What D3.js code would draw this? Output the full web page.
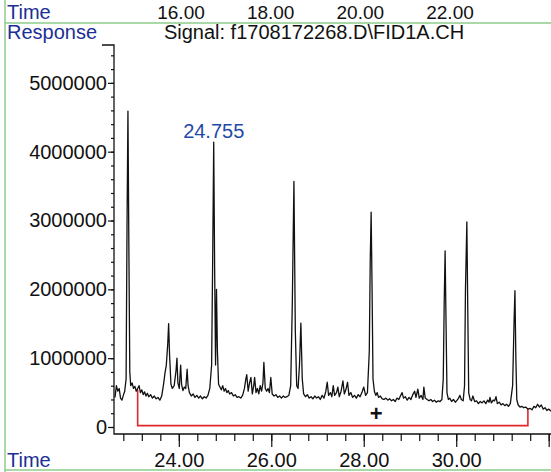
<!DOCTYPE html>
<html lang="en">
	<head>
		<meta charset="utf-8">
		<title>FID chromatogram</title>
		<script type="text/javascript" src="https://cdn.jsdelivr.net/npm/d3@7"></script>
		<style type="text/css">
            body{margin:0;background:#fff;font-family:"Liberation Sans",Arial,sans-serif;}
            .axis text{font-family:"Liberation Sans",Arial,sans-serif;font-size:20px;fill:#111;}
            .axis path, .axis line{stroke:#111;stroke-width:1.2;}
		</style>
	</head>
	<body>
    <div id="chart1"></div>
		<script type="text/javascript">
            // retention time (min) and detector response
            var times = [22.62,22.65,22.68,22.71,22.74,22.77,22.80,22.83,22.86,22.88,22.90,22.92,22.94,22.96,22.99,
                23.02,23.05,23.08,23.11,23.14,23.17,23.20,23.23,23.26,23.29,23.32,23.35,23.39,23.43,23.47,23.51,23.55,23.59,23.63,23.67,
                23.70,23.73,23.76,23.78,23.80,23.83,23.86,23.90,23.94,23.96,23.98,24.01,24.04,24.06,24.09,24.12,24.15,24.18,24.20,
                24.23,24.27,24.31,24.35,24.39,24.43,24.47,24.51,24.55,24.59,24.63,24.67,24.71,24.735,24.755,24.775,24.795,24.815,24.835,
                24.86,24.89,24.92,24.95,24.98,25.01,25.04,25.07,25.10,25.14,25.18,25.22,25.26,25.30,25.34,25.38,25.42,25.45,25.47,
                25.50,25.53,25.56,25.59,25.62,25.64,25.67,25.70,25.73,25.76,25.79,25.82,25.84,25.87,25.90,25.93,25.96,25.99,26.02,
                26.06,26.10,26.14,26.18,26.22,26.26,26.30,26.34,26.38,26.42,26.455,26.49,26.52,26.55,26.58,26.61,26.64,26.67,26.70,
                26.74,26.78,26.82,26.86,26.90,26.94,26.98,27.02,27.06,27.10,27.14,27.18,27.21,27.24,27.28,27.31,27.34,27.37,27.41,
                27.44,27.47,27.51,27.55,27.58,27.62,27.65,27.68,27.72,27.76,27.80,27.84,27.88,27.92,27.96,28.00,28.04,28.08,28.12,
                28.14,28.16,28.18,28.20,28.23,28.26,28.29,28.32,28.36,28.40,28.44,28.48,28.52,28.56,28.60,28.64,28.68,28.72,28.76,
                28.80,28.83,28.86,28.90,28.94,28.98,29.02,29.06,29.10,29.13,29.17,29.20,29.24,29.28,29.30,29.33,29.37,29.41,29.45,
                29.49,29.53,29.57,29.61,29.65,29.69,29.72,29.74,29.76,29.78,29.80,29.83,29.86,29.90,29.94,29.98,30.02,30.05,30.08,
                30.11,30.15,30.18,30.20,30.23,30.25,30.27,30.30,30.33,30.36,30.40,30.44,30.48,30.52,30.56,30.60,30.64,30.68,30.71,
                30.73,30.76,30.80,30.83,30.86,30.89,30.93,30.97,31.01,31.05,31.09,31.13,31.17,31.22,31.25,31.27,31.29,31.31,31.34,
                31.38,31.42,31.46,31.50,31.55,31.60,31.64,31.68,31.72,31.76,31.80,31.84,31.88,31.92,31.96,32.00,32.05]
            var response = [430000,600000,520000,560000,420000,390000,460000,520000,700000,2900000,4590000,2600000,800000,600000,640000,
                560000,590000,520000,560000,600000,500000,540000,470000,510000,450000,490000,440000,470000,420000,450000,410000,430000,390000,450000,620000,
                780000,900000,1200000,1500000,1050000,620000,560000,600000,820000,1000000,640000,560000,900000,620000,530000,580000,560000,840000,600000,
                500000,450000,480000,430000,460000,420000,450000,410000,440000,420000,460000,560000,900000,2600000,4140000,2300000,900000,2000000,1100000,
                620000,580000,540000,600000,520000,560000,500000,530000,480000,500000,450000,470000,430000,440000,420000,460000,560000,700000,760000,
                520000,640000,720000,480000,600000,720000,500000,560000,480000,600000,520000,640000,940000,560000,520000,560000,500000,720000,480000,
                450000,470000,430000,450000,420000,450000,430000,440000,460000,600000,1800000,3570000,1400000,600000,560000,900000,1510000,700000,480000,
                440000,470000,420000,440000,410000,450000,420000,440000,400000,460000,420000,520000,650000,460000,500000,440000,600000,460000,500000,
                580000,440000,520000,670000,480000,560000,650000,460000,500000,430000,460000,420000,470000,440000,500000,580000,460000,500000,1100000,
                2400000,3120000,2000000,700000,520000,460000,500000,430000,450000,410000,400000,420000,390000,410000,380000,400000,370000,420000,400000,
                460000,500000,420000,440000,390000,430000,400000,470000,520000,430000,550000,420000,460000,400000,580000,420000,400000,380000,400000,
                370000,390000,360000,380000,370000,400000,700000,1800000,2560000,1500000,500000,400000,420000,370000,400000,360000,390000,420000,460000,
                400000,380000,600000,2000000,2980000,1700000,500000,400000,380000,450000,370000,380000,340000,370000,350000,380000,340000,390000,360000,
                430000,350000,390000,380000,440000,340000,360000,320000,340000,310000,330000,300000,340000,600000,1500000,1980000,1000000,400000,320000,
                290000,300000,280000,290000,260000,270000,250000,300000,280000,330000,290000,320000,260000,280000,240000,260000,230000]

            var yTicks = [0,1000000,2000000,3000000,4000000,5000000]
            var xTicks = [24,26,28,30,32]
            var topTicks = [16,18,20,22]       // leftover time axis of the panel above
            var peakLabel = {time:24.755, value:4140000, text:"24.755"}
            // integration baseline (red bracket)
            var baseTimes = [23.11,31.55]
            var baseTops = [540000,260000]
            var baseFloor = 20000
            var plusMark = {time:28.27, value:200000}

            var w = 551
            var h = 472
            var x0 = 114, xAxisY = 434

            var svg = d3.select("#chart1")
                        .append("svg")
                        .attr("width",w)
                        .attr("height",h)

            var xScale = d3.scaleLinear().domain([22.62,32.05]).range([115,551])
            var yScale = d3.scaleLinear().domain([0,5550000]).range([427,45])
            var topScale = d3.scaleLinear().domain([16,22]).range([181,450])

            // green frame of the printout
            var green = "#8ccb8c"
            svg.append("line").attr("x1",5).attr("x2",5).attr("y1",0).attr("y2",h)
                .attr("stroke",green).attr("stroke-width",1.5)
            svg.append("line").attr("x1",5).attr("x2",w).attr("y1",23).attr("y2",23)
                .attr("stroke",green).attr("stroke-width",1.5)
            svg.append("line").attr("x1",5).attr("x2",w).attr("y1",470).attr("y2",470)
                .attr("stroke",green).attr("stroke-width",1.5)

            // blue header labels
            var navy = "#1b2f95"
            svg.append("text").attr("x",7).attr("y",19).text("Time")
                .attr("font-size",20).attr("fill",navy)
            svg.append("text").attr("x",7).attr("y",39).text("Response")
                .attr("font-size",20).attr("fill",navy)
            svg.append("text").attr("x",7).attr("y",467).text("Time")
                .attr("font-size",20).attr("fill",navy)
            svg.append("text").attr("x",314).attr("y",39).attr("text-anchor","middle")
                .text("Signal: f1708172268.D\\FID1A.CH").attr("font-size",20).attr("fill","#111")

            // top time labels (no tick lines)
            svg.selectAll(".toplabel")
                .data(topTicks)
                .enter()
                .append("text")
                .attr("class","toplabel")
                .attr("x",function(d){ return topScale(d) })
                .attr("y",19)
                .attr("text-anchor","middle")
                .attr("font-size",19)
                .attr("fill","#111")
                .text(function(d){ return d3.format(".2f")(d) })

            // y axis: major ticks with labels, minor every 200000
            var yAxis = d3.axisLeft(yScale).tickValues(yTicks).tickFormat(d3.format("d"))
                .tickSize(6).tickPadding(1).tickSizeOuter(0)
            var gy = svg.append("g").attr("class","axis").attr("transform","translate("+x0+",0)").call(yAxis)
            gy.select(".domain").remove()
            var gyMinor = svg.append("g").attr("class","axis").attr("transform","translate("+x0+",0)")
                .call(d3.axisLeft(yScale).tickValues(d3.range(0,5500001,200000)).tickSize(3).tickFormat(""))
            gyMinor.select(".domain").remove()

            // x axis: majors every 2 min, minors every 0.4 min
            var xAxis = d3.axisBottom(xScale).tickValues(xTicks)
                .tickFormat(function(d){ return d < 32 ? d3.format(".2f")(d) : "" })
                .tickSize(13).tickSizeOuter(0)
            var gx = svg.append("g").attr("class","axis").attr("transform","translate(0,"+xAxisY+")").call(xAxis)
            gx.select(".domain").remove()
            gx.selectAll("text").attr("y",33).attr("dy",0)
            var gxMinor = svg.append("g").attr("class","axis").attr("transform","translate(0,"+xAxisY+")")
                .call(d3.axisBottom(xScale).tickValues(d3.range(22.8,32.01,0.4)).tickSize(7).tickFormat(""))
            gxMinor.select(".domain").remove()

            // axis frame: short top stub, y line, x line
            svg.append("path")
                .attr("d","M102,"+yScale.range()[1]+"H"+x0+"V"+xAxisY+"H"+w)
                .attr("fill","none").attr("stroke","#111").attr("stroke-width",1.3)

            // red integration baseline bracket
            var bracket = [[baseTimes[0],baseTops[0]],[baseTimes[0],baseFloor],[baseTimes[1],baseFloor],[baseTimes[1],baseTops[1]]]
            svg.append("path")
                .datum(bracket)
                .attr("d",d3.line().x(function(d){ return xScale(d[0]) }).y(function(d){ return yScale(d[1]) }))
                .attr("fill","none").attr("stroke","#e0262b").attr("stroke-width",1.6)

            // chromatogram trace
            var trace = times.map(function(t,i){ return [t,response[i]] })
            svg.append("path")
                .datum(trace)
                .attr("d",d3.line().x(function(d){ return xScale(d[0]) }).y(function(d){ return yScale(d[1]) }))
                .attr("fill","none").attr("stroke","#111").attr("stroke-width",1.3).attr("stroke-linejoin","round")

            // peak label
            svg.append("text")
                .attr("x",xScale(peakLabel.time))
                .attr("y",yScale(peakLabel.value)-4)
                .attr("text-anchor","middle")
                .attr("font-size",20)
                .attr("fill","#1f4aa8")
                .text(peakLabel.text)

            // plus marker
            svg.append("text")
                .attr("x",xScale(plusMark.time))
                .attr("y",yScale(plusMark.value))
                .attr("dy","0.35em")
                .attr("text-anchor","middle")
                .attr("font-size",22)
                .attr("font-weight","bold")
                .attr("fill","#111")
                .text("+")
		</script>
	</body>
</html>
